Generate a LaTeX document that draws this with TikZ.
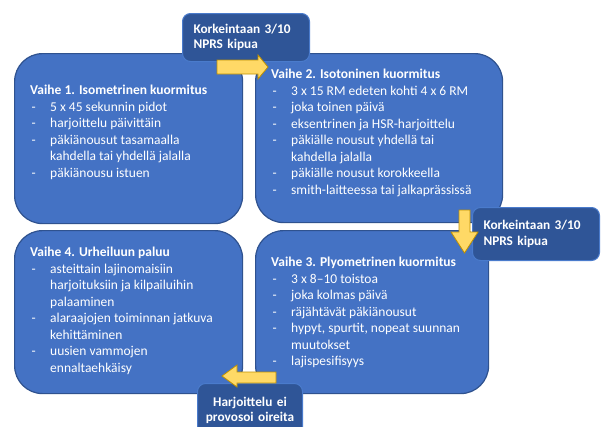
\documentclass[tikz,border=0pt]{standalone}
\usepackage{fontspec}
\setmainfont{Carlito}
\definecolor{boxblue}{HTML}{4472C4}
\definecolor{boxedge}{HTML}{2F528F}
\definecolor{labblue}{HTML}{2F5597}
\definecolor{labedge}{HTML}{4A7BCC}
\definecolor{arrfill}{HTML}{FFD966}
\definecolor{arredge}{HTML}{BF9000}
\newcommand\dl[1]{\makebox[20pt][l]{\hspace{1.5pt}-}#1}
\newcommand\cl[1]{\hspace*{20pt}#1}
\begin{document}
\begin{tikzpicture}[x=1pt,y=-1pt,
  phase/.style={rectangle,fill=boxblue,draw=boxedge,line width=1.2pt,rounded corners=28pt,inner sep=0pt,anchor=north west},
  txt/.style={text=white,align=left,inner sep=0pt,anchor=north west,font=\fontsize{13.5}{16.5}\selectfont},
  lab/.style={rectangle,fill=labblue,draw=labedge,line width=1pt,rounded corners=8pt,inner sep=0pt,anchor=north west,text=white,font=\bfseries\fontsize{13.3}{15.5}\selectfont},
  blockarrow/.style={fill=arrfill,draw=arredge,line width=0.8pt,line join=miter}]
\useasboundingbox (0,0) rectangle (601,426);
\fill[white] (0,0) rectangle (601,426);
% phase boxes
\node[phase,minimum width=228pt,minimum height=170pt] (b1) at (14,53) {};
\node[phase,minimum width=247pt,minimum height=169pt] (b2) at (255,53) {};
\node[phase,minimum width=228pt,minimum height=163pt] (b4) at (14,230) {};
\node[phase,minimum width=233pt,minimum height=163pt] (b3) at (255,230) {};
% texts
\node[txt] (t1) at (30,85) {\textbf{Vaihe 1. Isometrinen kuormitus}\\
\dl{5 x 45 sekunnin pidot}\\
\dl{harjoittelu päivittäin}\\
\dl{päkiänousut tasamaalla}\\
\cl{kahdella tai yhdellä jalalla}\\
\dl{päkiänousu istuen}};
\node[txt] (t2) at (271,69) {\textbf{Vaihe 2. Isotoninen kuormitus}\\
\dl{3 x 15 RM edeten kohti 4 x 6 RM}\\
\dl{joka toinen päivä}\\
\dl{eksentrinen ja HSR-harjoittelu}\\
\dl{päkiälle nousut yhdellä tai}\\
\cl{kahdella jalalla}\\
\dl{päkiälle nousut korokkeella}\\
\dl{smith-laitteessa tai jalkaprässissä}};
\node[txt] (t4) at (30,247) {\textbf{Vaihe 4. Urheiluun paluu}\\
\dl{asteittain lajinomaisiin}\\
\cl{harjoituksiin ja kilpailuihin}\\
\cl{palaaminen}\\
\dl{alaraajojen toiminnan jatkuva}\\
\cl{kehittäminen}\\
\dl{uusien vammojen}\\
\cl{ennaltaehkäisy}};
\node[txt] (t3) at (271,257) {\textbf{Vaihe 3. Plyometrinen kuormitus}\\
\dl{3 x 8–10 toistoa}\\
\dl{joka kolmas päivä}\\
\dl{räjähtävät päkiänousut}\\
\dl{hypyt, spurtit, nopeat suunnan}\\
\cl{muutokset}\\
\dl{lajispesifisyys}};
% labels
\node[lab,minimum width=127pt,minimum height=48pt,text width=109pt,inner xsep=9pt,align=left] (l1) at (182,13) {\hspace*{2pt}Korkeintaan 3/10\\\hspace*{2pt}NPRS kipua};
\node[lab,minimum width=127pt,minimum height=53pt,text width=109pt,inner xsep=9pt,align=left] (l2) at (472,207) {\hspace*{2pt}Korkeintaan 3/10\\\hspace*{2pt}NPRS kipua};
\node[lab,minimum width=105pt,minimum height=54pt,text width=101pt,inner xsep=2pt,align=center] (l3) at (197,383) {Harjoittelu ei\\provosoi oireita};
% block arrows
\draw[blockarrow] (217,60) -- (258,60) -- (258,55) -- (268,67) -- (258,79) -- (258,74) -- (217,74) -- cycle;
\draw[blockarrow] (459,210) -- (470,210) -- (470,232) -- (478,232) -- (464.5,253) -- (451,232) -- (459,232) -- cycle;
\draw[blockarrow] (276,372) -- (237,372) -- (237,365) -- (222,376) -- (237,387) -- (237,383) -- (276,383) -- cycle;
\end{tikzpicture}
\end{document}
